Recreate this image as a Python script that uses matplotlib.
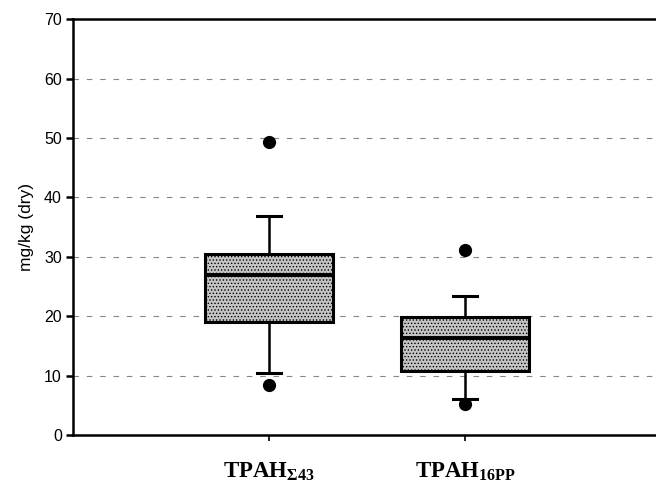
import numpy as np
import matplotlib.pyplot as plt

groups = [r'TPAH$_\mathregular{\Sigma 43}$', r'TPAH$_\mathregular{16PP}$']
q1 = [19.1, 10.7]
medians = [27.0, 16.4]
q3 = [30.5, 19.8]
whis_lo = [10.4, 6.1]
whis_hi = [36.8, 23.4]
fliers = [[49.3, 8.4], [31.1, 5.2]]

plt.rcParams['font.family'] = 'Liberation Sans'
plt.rcParams['mathtext.fontset'] = 'custom'
plt.rcParams['mathtext.rm'] = 'Liberation Serif:bold'
plt.rcParams['hatch.linewidth'] = 0.6

fig = plt.figure(figsize=(6.56, 4.9), dpi=100)
ax = fig.add_axes([0.1113, 0.1122, 0.8963, 0.8484])

stats = []
for i in range(len(groups)):
    stats.append(dict(med=medians[i], q1=q1[i], q3=q3[i],
                      whislo=whis_lo[i], whishi=whis_hi[i],
                      fliers=fliers[i], label=groups[i]))

bp = ax.bxp(stats, positions=[1, 2], widths=0.65, patch_artist=True,
            capwidths=0.122,
            boxprops=dict(facecolor='#c4c4c4', edgecolor='black', linewidth=2.2,
                          hatch='.....'),
            medianprops=dict(color='black', linewidth=2.8),
            whiskerprops=dict(color='black', linewidth=1.8),
            capprops=dict(color='black', linewidth=2.2),
            flierprops=dict(marker='o', markerfacecolor='black',
                            markeredgecolor='black', markersize=8.5))

ax.set_xlim(0, 3)
ax.set_ylim(0, 70)
ax.set_yticks(np.arange(0, 71, 10))
ax.yaxis.grid(True, color='#888888', linestyle=(0, (5, 7)), linewidth=0.8)
ax.set_axisbelow(True)

for s in ['left', 'bottom', 'top']:
    ax.spines[s].set_linewidth(1.8)
ax.spines['right'].set_visible(False)

ax.tick_params(axis='y', direction='out', length=5, width=1.8,
               labelsize=11.5, pad=3)
ax.tick_params(axis='x', direction='out', length=4, width=1.2, pad=14)
for lab in ax.get_xticklabels():
    lab.set_fontfamily('Liberation Serif')
    lab.set_fontweight('bold')
    lab.set_fontsize(16.5)

ax.set_ylabel('mg/kg (dry)', fontsize=12.5, labelpad=7)

fig.savefig('out.png', dpi=100)
